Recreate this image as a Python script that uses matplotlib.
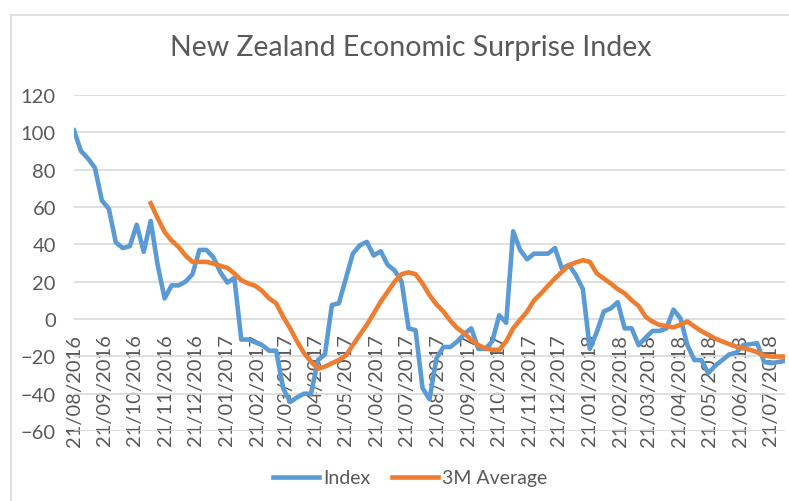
import numpy as np
import pandas as pd
import matplotlib
matplotlib.use("Agg")
import matplotlib.pyplot as plt
import matplotlib.dates as mdates
import matplotlib.patches as mpatches

plt.rcParams["font.family"] = ["Lato", "DejaVu Sans"]

# ── Data (weekly readings) ───────────────────────────────────────────
START = "2016-08-21"
index_vals = [
    101, 90, 86, 81, 63.5, 59, 41, 38, 39, 50.5,
    36, 52.5, 29, 11, 18, 18, 20, 24, 37, 37,
    33, 25, 19.5, 22, -11, -11, -12.5, -14, -17, -17,
    -37, -44.5, -42, -40, -40, -22, -19, 7.5, 8.4, 21.7,
    35, 39.5, 41.3, 34, 36.3, 29, 26, 20, -5, -6,
    -37, -43, -21, -15, -15, -12, -8, -5, -16, -16,
    -12, 2, -2, 47, 37, 32, 35, 35, 35, 38,
    27, 29, 23.5, 16, -16, -7, 4, 5.7, 9, -5,
    -5, -14, -10, -6.4, -6.4, -5, 5, 0.4, -14, -22,
    -22, -29, -25, -22, -19, -18, -14, -13.5, -13, -23,
    -23.7, -23, -22.5,
]
avg_3m = [np.nan] * 11 + [
    62, 54, 46.6, 42, 38.6, 34, 30.6, 30.6, 30.6, 29.7,
    28.5, 27.4, 24.4, 20.8, 19, 17.8, 15, 11, 8.4, 1.2,
    -5, -12, -18.3, -22.8, -26.7, -25.5, -23.7, -22, -19.6, -14,
    -8.5, -3.2, 3, 9.3, 14.6, 20, 24, 25, 24, 19,
    12.8, 7.8, 4, -1, -5, -7.7, -11.2, -14, -15.7, -16.5,
    -16.5, -12, -5, -0.5, 4, 10, 13.7, 17.8, 21.7, 25.3,
    28.8, 30.3, 31.5, 30.6, 24.4, 21.7, 19, 16, 13.7, 10,
    7, 1.2, -1.4, -3.2, -3.8, -4.5, -3, -1.3, -4, -6.5,
    -8.5, -10.5, -12, -13.5, -14.8, -15.7, -16.5, -17.8, -19.6, -20.1,
    -20.1, -20.1,
]
dates = pd.date_range(START, periods=len(index_vals), freq="7D")
month_ticks = pd.date_range("2016-08-01", "2018-07-01", freq="MS") + pd.Timedelta(days=20)

BLUE = "#5B9BD5"
ORANGE = "#ED7D31"
GRID = "#D9D9D9"
TEXT = "#595959"

W, H = 789, 502
fig = plt.figure(figsize=(W / 100, H / 100), dpi=100)
ax = fig.add_axes([74 / W, 1 - 432 / H, (785 - 74) / W, 336 / H])

# chart border (light grey, runs off right/bottom)
fig.add_artist(mpatches.Rectangle((11 / W, -0.2), 1.2, 1.2 - 16 / H,
                                  transform=fig.transFigure, fill=False,
                                  ec=GRID, lw=1.2))

ax.plot(dates, index_vals, color=BLUE, lw=3.3, label="Index", solid_joinstyle="round")
ax.plot(dates, avg_3m, color=ORANGE, lw=3.3, label="3M Average", solid_joinstyle="round")

ax.set_xlim(dates[0], dates[-1])
ax.set_ylim(-60, 120)
ax.set_yticks(np.arange(-60, 121, 20))
ax.set_xticks(month_ticks)
ax.xaxis.set_major_formatter(mdates.DateFormatter("%d/%m/%Y"))

for s in ["top", "right", "left"]:
    ax.spines[s].set_visible(False)
ax.spines["bottom"].set_position(("data", 0))
ax.spines["bottom"].set_color("none")

ax.yaxis.grid(True, color=GRID, lw=1.2)
ax.set_axisbelow(True)
ax.tick_params(axis="y", length=0, pad=13, labelsize=14.5, labelcolor=TEXT)
ax.tick_params(axis="x", length=0, pad=10.5, labelsize=14.5, labelcolor=TEXT,
               labelrotation=90)

fig.text(411 / W, 1 - 48 / H, "New Zealand Economic Surprise Index",
         ha="center", va="center", fontsize=20.5, color=TEXT)

fig.legend(loc="center", bbox_to_anchor=(410 / W, 1 - 479 / H), ncol=2,
           frameon=False, fontsize=14, labelcolor=TEXT, handlelength=2.4,
           handletextpad=0.2, columnspacing=1.1)

fig.savefig("out.png", dpi=100)
